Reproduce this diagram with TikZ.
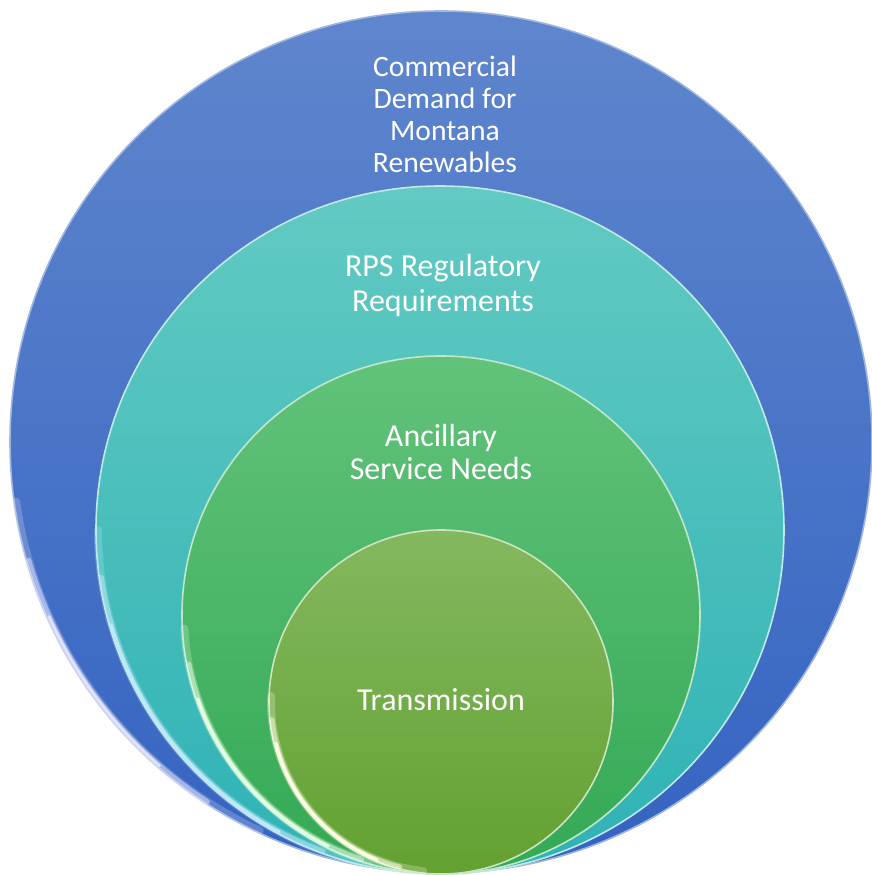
\documentclass[tikz,border=0pt]{standalone}
\usepackage{fontspec}
\setmainfont{Carlito}
\usetikzlibrary{positioning}

\definecolor{demandtop}{HTML}{5F86CD}
\definecolor{demandbot}{HTML}{3463C1}
\definecolor{rpstop}{HTML}{62CAC2}
\definecolor{rpsbot}{HTML}{2FB2B5}
\definecolor{ancitop}{HTML}{62C27A}
\definecolor{ancibot}{HTML}{33A955}
\definecolor{transtop}{HTML}{84B85F}
\definecolor{transbot}{HTML}{62A131}

\begin{document}
\begin{tikzpicture}[
  x=0.5pt, y=0.5pt,
  ring/.style={circle, inner sep=0pt, minimum size=#1, line width=0.8pt},
  rim/.style={draw=#1, line cap=round},
  caption/.style={text=white, align=center, font=\fontsize{16}{17.5}\selectfont}
]
  \useasboundingbox (0,0) rectangle (872,875);

  % nested rings, all touching at the bottom
  \node (demand) [ring=431pt, top color=demandtop, bottom color=demandbot, draw=demandtop!60!white] at (441,433) {};
  \node (rps) [ring=344pt, top color=rpstop, bottom color=rpsbot, draw=rpstop!40!white] at (440,345) {};
  \node (anci) [ring=259pt, top color=ancitop, bottom color=ancibot, draw=ancitop!40!white] at (441,260) {};
  \node (trans) [ring=172pt, top color=transtop, bottom color=transbot, draw=transtop!40!white] at (441,173) {};

  % bright bevel on the lower left of each ring, fading towards the ends
  \foreach \ring/\r/\a/\b/\tint in {demand/214.5/188/245/blue!10!white,
                                   rps/171/180/258/cyan!25!white,
                                   anci/128.5/183/260/green!10!white,
                                   trans/85/178/264/yellow!10!white} {
    \foreach \cut/\w/\o in {0/4pt/0.25, 8/2.6pt/0.5, 16/1.4pt/0.95} {
      \draw[rim=\tint, line width=\w, opacity=\o]
        (\ring.center) ++(\a+\cut:\r pt) arc[start angle=\a+\cut, end angle=\b-\cut, radius=\r pt];
    }
  }

  \node (demandtext) [caption, font=\fontsize{14.8}{16}\selectfont] at (445,761) {Commercial\\Demand for\\Montana\\Renewables};
  \node (rpstext) [caption] at (443,590) {RPS Regulatory\\Requirements};
  \node (ancitext) [caption, font=\fontsize{16}{16.5}\selectfont] at (441,423) {Ancillary\\Service Needs};
  \node (transtext) [caption] at (441,175) {Transmission};
\end{tikzpicture}
\end{document}
